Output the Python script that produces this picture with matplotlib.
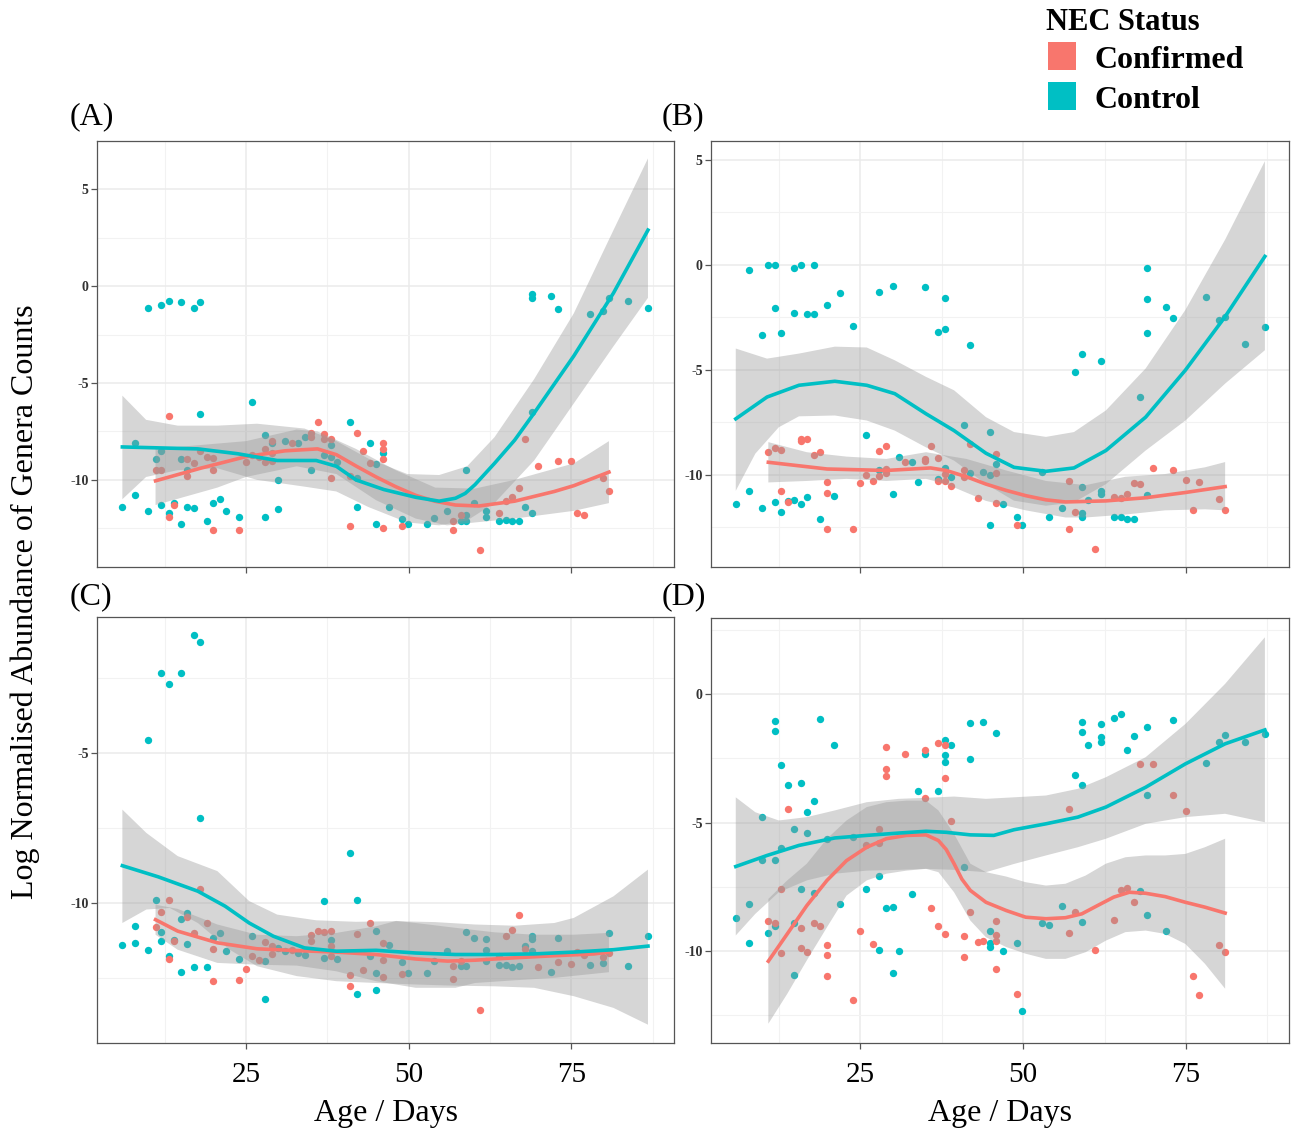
import numpy as np
import matplotlib
matplotlib.use("Agg")
import matplotlib.pyplot as plt
from matplotlib.patches import Rectangle
from matplotlib.ticker import MultipleLocator

plt.rcParams['font.family'] = ['Liberation Serif', 'DejaVu Serif']

RED = '#F8766D'
CYAN = '#00BFC4'

# ---------------- panel A ----------------
a_ctrl_age = [6.0, 8.0, 8.0, 10.0, 10.0, 12.0, 13.1, 15.0, 17.0, 18.0, 18.0, 11.1, 12.0, 12.0, 13.1, 14.0, 15.0, 15.0, 16.0, 16.0,
              17.0, 19.0, 20.0, 21.0, 22.0, 24.0, 26.0, 28.0, 28.0, 29.0, 30.0, 30.0, 31.0, 33.0, 34.0, 35.0, 37.0, 38.0, 38.0, 39.0,
              41.0, 42.0, 42.0, 44.0, 45.0, 45.0, 46.0, 47.0, 49.0, 49.9, 52.9, 53.9, 55.9, 58.0, 58.9, 58.9, 58.9, 60.0, 61.9, 61.9,
              63.9, 64.9, 65.9, 66.9, 67.9, 68.9, 68.9, 68.9, 68.9, 71.9, 72.9, 77.9, 79.9, 80.8, 83.8, 86.8]
a_ctrl_y = [-11.4, -8.1, -10.8, -1.12, -11.6, -0.95, -0.74, -0.81, -1.12, -0.81, -6.6, -8.9, -8.5, -11.3, -11.7, -11.2, -8.9, -12.3, -9.5, -11.4,
            -11.45, -12.1, -11.2, -11.0, -11.6, -11.9, -6.0, -7.7, -11.9, -8.1, -10.0, -11.5, -8.0, -8.1, -7.8, -9.5, -8.7, -8.2, -8.8, -9.1,
            -7.0, -9.9, -11.4, -8.1, -9.2, -12.3, -8.6, -11.4, -12.0, -12.3, -12.3, -11.95, -11.6, -12.1, -9.5, -11.8, -12.1, -11.2, -11.6, -11.9,
            -12.1, -12.05, -12.1, -12.1, -11.4, -0.4, -0.6, -6.5, -11.7, -0.5, -1.17, -1.43, -1.26, -0.6, -0.74, -1.12]
a_conf_age = [11.1, 12.0, 13.1, 13.1, 14.0, 16.0, 16.0, 17.0, 18.0, 19.0, 20.0, 20.0, 20.0, 24.0, 25.0, 26.0, 27.0, 28.0, 28.0, 29.0,
              29.0, 29.0, 32.0, 35.0, 35.0, 36.0, 37.0, 37.0, 38.0, 38.0, 41.0, 41.0, 42.0, 43.0, 44.0, 46.0, 46.0, 46.0, 46.0, 49.0,
              56.9, 56.9, 58.0, 61.0, 63.9, 64.9, 65.9, 66.9, 67.9, 69.9, 72.9, 74.9, 75.9, 76.9, 79.9, 80.8]
a_conf_y = [-9.5, -9.5, -6.7, -11.9, -11.3, -8.9, -9.8, -9.15, -8.5, -8.8, -8.85, -9.5, -12.6, -12.6, -9.1, -8.7, -8.8, -8.4, -9.1, -8.0,
            -8.6, -9.0, -8.1, -7.6, -7.8, -7.0, -7.65, -7.9, -7.9, -9.9, -9.8, -12.4, -7.6, -8.5, -9.15, -8.1, -8.4, -8.9, -12.5, -12.4,
            -12.1, -12.6, -11.8, -13.6, -11.7, -11.1, -10.9, -10.4, -7.9, -9.3, -9.0, -9.05, -11.7, -11.8, -9.9, -10.6]
a_conf_fit_age = [11.1, 18.0, 25, 31.0, 36, 38.9, 42.0, 45, 48.0, 51.1, 54.0, 57.2, 60.8, 66.3, 72.4, 75.4, 80.8]
a_conf_fit = [-10.05, -9.4, -8.8, -8.5, -8.4, -8.7, -9.3, -9.85, -10.35, -10.8, -11.1, -11.3, -11.35, -11.1, -10.6, -10.3, -9.6]
a_conf_hi_age = [11.1, 25, 32.8, 36, 41.9, 48, 54.1, 60.2, 66.3, 75.4, 80.8]
a_conf_hi = [-8.4, -8.0, -7.4, -7.5, -8.4, -9.5, -10.4, -10.45, -10.0, -9.15, -8.0]
a_conf_lo_age = [11.1, 20.6, 25, 32.8, 38.9, 45, 51.1, 55.9, 60.2, 66.3, 75.4, 80.8]
a_conf_lo = [-11.3, -10.4, -9.85, -9.3, -9.7, -11.05, -12.0, -12.35, -12.2, -12.0, -11.6, -11.2]
a_ctrl_fit_age = [6, 17.6, 23.7, 29.8, 35.8, 38.9, 41.9, 46.2, 51.1, 54.7, 57.2, 58.7, 60.2, 61.7, 63.2, 66.3, 69.3, 75.4, 81.5, 86.8]
a_ctrl_fit = [-8.3, -8.4, -8.65, -9.0, -9.0, -9.3, -10.0, -10.5, -10.9, -11.1, -10.95, -10.7, -10.25, -9.7, -9.15, -7.95, -6.55, -3.6, -0.35, 2.9]
a_ctrl_band_age = [6.0, 9.65, 14.5, 20.6, 26.7, 34.0, 38.9, 43.8, 49.8, 54.7, 59.0, 63.2, 69.3, 75.4, 81.5, 86.8]
a_ctrl_hi = [-5.65, -6.9, -7.2, -7.2, -7.1, -7.35, -8.0, -8.9, -9.7, -9.75, -9.3, -7.8, -4.8, -1.4, 2.9, 6.6]
a_ctrl_lo = [-11.0, -9.85, -9.5, -9.4, -10.0, -10.35, -10.6, -11.4, -12.2, -12.35, -12.1, -11.2, -9.0, -6.05, -3.1, -0.6]

# ---------------- panel B ----------------
b_ctrl_age = [5.9, 7.9, 7.9, 9.9, 9.9, 10.9, 11.9, 11.9, 11.9, 12.9, 12.9, 13.9, 14.9, 14.9, 14.9, 15.9, 15.9, 16.9, 16.9, 17.9,
              17.9, 18.9, 19.9, 20.9, 21.9, 23.9, 25.9, 27.9, 27.9, 30.0, 30.0, 30.9, 32.9, 33.9, 34.9, 37.0, 37.0, 38.0, 38.0, 38.0,
              38.9, 41.0, 41.9, 41.9, 43.9, 44.9, 44.9, 44.9, 45.9, 46.9, 49.0, 49.9, 52.9, 53.9, 55.9, 57.9, 59.0, 59.0, 59.0, 59.0,
              60.0, 62.0, 62.0, 62.0, 64.0, 65.0, 66.0, 67.0, 68.0, 69.0, 69.0, 69.0, 69.0, 72.0, 73.0, 78.0, 80.0, 81.0, 84.0, 87.1]
b_ctrl_y = [-11.4, -0.27, -10.8, -3.35, -11.6, -0.03, -0.03, -2.07, -11.3, -3.27, -11.8, -11.25, -0.13, -2.28, -11.2, -0.03, -11.4, -2.34, -11.05, -0.03,
            -2.34, -12.1, -1.91, -11.0, -1.36, -2.92, -8.1, -1.28, -9.8, -1.0, -10.9, -9.14, -9.4, -10.35, -1.04, -3.2, -10.2, -1.6, -3.05, -9.7,
            -10.1, -7.65, -3.83, -9.9, -9.85, -7.97, -10.0, -12.4, -9.5, -11.4, -12.0, -12.4, -9.85, -12.0, -11.6, -5.1, -4.23, -10.6, -11.85, -12.0,
            -11.2, -4.58, -10.8, -10.9, -12.0, -12.0, -12.1, -12.1, -6.3, -0.16, -1.64, -3.27, -10.97, -2.03, -2.52, -1.55, -2.63, -2.47, -3.75, -2.95]
b_conf_age = [10.9, 11.9, 12.9, 12.9, 13.9, 15.9, 15.9, 16.9, 17.9, 18.9, 19.9, 19.9, 19.9, 23.9, 24.9, 25.9, 26.9, 27.9, 27.9, 28.9,
              28.9, 28.9, 31.9, 34.9, 34.9, 35.9, 37.0, 37.0, 38.0, 38.0, 38.9, 41.0, 41.0, 41.9, 43.0, 45.9, 45.9, 45.9, 49.0, 57.0,
              57.0, 57.9, 61.0, 64.0, 65.0, 66.0, 67.0, 68.0, 70.0, 73.0, 75.0, 76.0, 77.0, 80.0, 81.0]
b_conf_y = [-8.9, -8.72, -8.82, -10.8, -11.3, -8.3, -8.4, -8.3, -9.04, -8.93, -10.33, -10.85, -12.6, -12.57, -10.4, -10.0, -10.3, -8.85, -10.05, -8.64,
            -9.73, -9.9, -9.38, -9.25, -9.33, -8.64, -9.2, -10.3, -9.97, -10.3, -10.55, -9.78, -10.13, -8.56, -11.13, -9.0, -9.94, -11.36, -12.4, -10.3,
            -12.57, -11.77, -13.56, -11.05, -11.1, -10.9, -10.4, -10.45, -9.7, -9.8, -10.24, -11.7, -10.37, -11.16, -11.7]
b_conf_fit_age = [10.9, 19.9, 29.0, 35.8, 38.2, 41.3, 44.3, 47.4, 50.4, 53.5, 56.5, 62.7, 68.8, 74.9, 81.0]
b_conf_fit = [-9.41, -9.73, -9.8, -9.68, -9.8, -10.1, -10.45, -10.75, -11.0, -11.2, -11.3, -11.25, -11.1, -10.85, -10.57]
b_conf_hi_age = [10.9, 16.8, 22.9, 29.0, 35.1, 41.3, 47.4, 53.5, 59.6, 65.7, 71.8, 77.9, 81.0]
b_conf_hi = [-8.45, -8.93, -9.14, -9.25, -8.93, -9.25, -9.8, -10.3, -10.5, -10.1, -9.97, -9.65, -9.4]
b_conf_lo_age = [10.9, 16.8, 22.9, 29.0, 35.1, 38.2, 44.3, 50.4, 56.5, 59.6, 65.7, 71.8, 77.9, 81.0]
b_conf_lo = [-10.37, -10.3, -10.2, -10.3, -10.2, -10.45, -11.25, -11.7, -12.04, -12.04, -11.9, -11.7, -11.65, -11.7]
b_ctrl_fit_age = [5.9, 10.7, 15.6, 21.1, 26, 30.3, 35.1, 39.4, 44.3, 48.6, 53.5, 57.8, 62.7, 68.8, 74.9, 81, 87.1]
b_ctrl_fit = [-7.34, -6.3, -5.74, -5.55, -5.74, -6.14, -7.1, -7.9, -8.98, -9.65, -9.84, -9.68, -8.85, -7.26, -5.02, -2.47, 0.4]
b_ctrl_hi_age = b_ctrl_fit_age
b_ctrl_hi = [-3.99, -4.47, -4.23, -3.9, -3.94, -4.55, -5.34, -5.98, -7.26, -7.97, -8.2, -7.97, -6.94, -4.94, -2.15, 1.2, 4.94]
b_ctrl_lo_age = [5.9, 8.9, 12.5, 15.6, 21.1, 26, 30.3, 35.1, 39.4, 44.3, 48.6, 53.5, 57.8, 62.7, 68.8, 74.9, 81, 87.1]
b_ctrl_lo = [-10.77, -9.0, -7.74, -7.22, -7.18, -7.42, -7.9, -8.7, -9.33, -10.45, -11.24, -11.48, -11.32, -10.45, -8.85, -7.42, -5.66, -4.07]

# ---------------- panel C ----------------
c_ctrl_age = [6.0, 8.0, 8.0, 10.0, 10.0, 11.1, 12.0, 12.0, 12.0, 13.1, 13.1, 14.0, 15.0, 15.0, 15.0, 16.0, 16.0, 17.0, 17.0, 18.0,
              18.0, 19.0, 20.0, 21.0, 22.0, 24.0, 26.0, 28.0, 28.0, 30.0, 31.0, 33.0, 34.0, 37.0, 37.0, 38.0, 39.0, 41.0, 42.0, 42.0,
              44.0, 45.0, 45.0, 45.0, 47.0, 49.0, 49.9, 52.9, 53.9, 55.9, 58.0, 58.9, 58.9, 60.0, 61.9, 61.9, 61.9, 63.9, 64.9, 65.9,
              66.9, 67.9, 68.9, 68.9, 68.9, 71.9, 72.9, 77.9, 79.9, 80.8, 83.8, 86.8]
c_ctrl_y = [-11.41, -10.76, -11.33, -4.56, -11.56, -9.91, -2.33, -10.98, -11.28, -2.7, -11.76, -11.22, -2.33, -10.52, -12.3, -10.33, -11.37, -1.08, -12.13, -1.31,
            -7.17, -12.13, -11.17, -11.0, -11.59, -11.86, -11.11, -11.92, -13.19, -11.5, -11.61, -11.67, -11.72, -9.94, -11.83, -11.22, -11.87, -8.33, -9.89, -13.03,
            -11.78, -10.94, -12.33, -12.89, -11.39, -11.98, -12.33, -12.33, -11.94, -11.59, -12.11, -10.98, -12.11, -11.17, -11.2, -11.58, -11.92, -12.06, -12.06, -12.14,
            -12.09, -11.42, -11.11, -11.2, -11.61, -12.3, -11.17, -12.06, -12.0, -11.0, -12.11, -11.11]
c_conf_age = [11.1, 12.0, 13.1, 13.1, 14.0, 16.0, 17.0, 18.0, 19.0, 20.0, 20.0, 24.0, 25.0, 26.0, 27.0, 28.0, 29.0, 29.0, 32.0, 35.0,
              35.0, 36.0, 37.0, 38.0, 38.0, 38.0, 41.0, 41.0, 42.0, 43.0, 44.0, 46.0, 46.0, 46.0, 49.0, 56.9, 56.9, 58.0, 61.0, 63.9,
              64.9, 65.9, 66.9, 67.9, 69.9, 72.9, 74.9, 75.9, 76.9, 79.9, 80.8]
c_conf_y = [-10.81, -10.3, -9.89, -11.87, -11.28, -10.48, -11.0, -9.53, -10.67, -11.52, -12.59, -12.56, -12.19, -11.78, -11.91, -11.3, -11.42, -11.69, -11.58, -11.08,
            -11.26, -10.94, -10.96, -10.92, -11.42, -11.78, -12.41, -12.76, -11.03, -12.22, -10.67, -11.33, -11.89, -12.48, -12.36, -12.11, -12.53, -11.92, -13.56, -11.78,
            -11.11, -10.91, -10.39, -11.52, -12.14, -11.97, -12.03, -11.64, -11.74, -11.81, -11.67]
c_conf_fit_age = [11.1, 14.5, 20.6, 26.7, 32.8, 38.9, 45, 51.1, 56, 60.2, 66.3, 72.4, 78.5, 80.8]
c_conf_fit = [-10.56, -10.94, -11.33, -11.53, -11.59, -11.64, -11.72, -11.87, -11.94, -11.91, -11.83, -11.76, -11.7, -11.64]
c_conf_hi_age = [11.1, 14.5, 20.6, 26.7, 32.8, 38.9, 45, 48.1, 51.1, 57.2, 63.2, 69.3, 75.4, 80.8]
c_conf_hi = [-10.06, -10.2, -10.72, -11.06, -11.11, -11.0, -10.78, -10.6, -10.67, -10.83, -10.98, -11.06, -11.06, -11.0]
c_conf_lo_age = [11.1, 14.5, 20.6, 26.7, 32.8, 38.9, 45, 51.1, 57.2, 60.2, 66.3, 72.4, 80.8]
c_conf_lo = [-11.06, -11.56, -12.0, -12.06, -12.09, -12.28, -12.61, -12.83, -12.83, -12.67, -12.58, -12.5, -12.31]
c_ctrl_fit_age = [6, 11.5, 17.6, 21.8, 25.5, 29.2, 34, 38.9, 45, 51.1, 57.2, 63.2, 69.3, 75.4, 81.5, 86.8]
c_ctrl_fit = [-8.76, -9.13, -9.61, -10.11, -10.67, -11.11, -11.5, -11.61, -11.58, -11.67, -11.72, -11.72, -11.7, -11.64, -11.56, -11.44]
c_ctrl_hi_age = [6, 9.7, 14.5, 20.6, 25.5, 29.8, 35.8, 41.9, 48, 54.1, 60.2, 66.3, 72.4, 75.4, 81.5, 86.8]
c_ctrl_hi = [-6.89, -7.67, -8.44, -8.94, -9.94, -10.39, -10.58, -10.63, -10.61, -10.64, -10.72, -10.76, -10.67, -10.5, -9.78, -8.89]
c_ctrl_lo_age = [6, 9.7, 13.3, 17.6, 22.5, 26.7, 32.8, 38.9, 45, 51.1, 57.2, 63.2, 69.3, 75.4, 81.5, 86.8]
c_ctrl_lo = [-10.67, -10.22, -10.17, -10.67, -11.56, -12.11, -12.44, -12.61, -12.67, -12.72, -12.76, -12.78, -12.83, -13.11, -13.5, -14.06]

# ---------------- panel D ----------------
d_ctrl_age = [5.9, 7.9, 7.9, 9.9, 9.9, 10.9, 11.9, 11.9, 11.9, 11.9, 12.9, 12.9, 13.9, 14.9, 14.9, 14.9, 15.9, 15.9, 16.9, 16.9,
              17.9, 17.9, 18.9, 19.9, 20.9, 21.9, 23.9, 25.9, 27.9, 27.9, 28.9, 30.0, 30.0, 30.9, 32.9, 33.9, 34.9, 37.0, 38.0, 38.0,
              38.0, 38.9, 41.0, 41.9, 41.9, 43.9, 44.9, 44.9, 44.9, 45.9, 46.9, 49.0, 49.9, 52.9, 53.9, 55.9, 57.9, 59.0, 59.0, 59.0,
              59.0, 60.0, 62.0, 62.0, 62.0, 64.0, 65.0, 66.0, 67.0, 68.0, 69.0, 69.0, 69.0, 72.0, 73.0, 78.0, 80.0, 81.0, 84.0, 87.1]
d_ctrl_y = [-8.7, -8.16, -9.68, -4.77, -6.45, -9.29, -1.06, -1.46, -6.45, -9.04, -2.75, -5.98, -3.54, -5.25, -8.91, -10.92, -3.47, -7.6, -4.6, -5.39,
            -4.18, -7.73, -0.97, -5.63, -1.97, -8.16, -5.57, -7.58, -7.09, -9.97, -8.33, -8.3, -10.85, -10.0, -7.77, -3.76, -2.33, -3.76, -1.81, -2.36,
            -2.66, -1.97, -6.74, -1.14, -2.53, -1.08, -9.22, -9.68, -9.84, -1.53, -10.01, -9.69, -12.34, -8.91, -9.0, -8.23, -3.15, -3.54, -1.1, -1.49,
            -8.85, -1.98, -1.17, -1.68, -1.88, -0.93, -0.78, -2.18, -1.65, -7.68, -1.3, -3.92, -8.61, -9.22, -1.01, -2.68, -1.88, -1.59, -1.88, -1.55]
d_conf_age = [10.9, 11.9, 12.9, 12.9, 13.9, 15.9, 15.9, 16.9, 17.9, 18.9, 19.9, 19.9, 19.9, 23.9, 24.9, 25.9, 26.9, 27.9, 27.9, 28.9,
              28.9, 28.9, 31.9, 34.9, 34.9, 35.9, 37.0, 37.0, 38.0, 38.0, 38.0, 38.9, 41.0, 41.0, 41.9, 43.0, 43.9, 45.9, 45.9, 45.9,
              45.9, 49.0, 57.0, 57.0, 57.9, 61.0, 64.0, 65.0, 66.0, 67.0, 68.0, 70.0, 73.0, 75.0, 76.0, 77.0, 80.0, 81.0]
d_conf_y = [-8.83, -8.91, -7.6, -10.08, -4.47, -9.1, -9.88, -10.04, -8.9, -9.04, -9.78, -10.14, -10.98, -11.88, -9.2, -5.89, -9.72, -5.25, -5.8, -2.07,
            -2.91, -3.2, -2.33, -2.2, -4.05, -8.32, -1.92, -9.04, -1.98, -3.28, -9.33, -4.96, -9.43, -10.21, -8.46, -9.65, -9.59, -8.81, -9.39, -9.61,
            -10.69, -11.66, -4.47, -9.29, -8.48, -9.95, -8.78, -7.64, -7.54, -8.1, -2.72, -2.72, -3.92, -4.57, -10.98, -11.72, -9.75, -10.04]
d_conf_fit_age = [10.9, 13.8, 16.8, 19.9, 22.9, 26, 29, 32.1, 35.1, 37, 38.2, 39.4, 40.6, 41.9, 44.3, 47.4, 50.4, 53.5, 56.5, 59, 61.4, 63.9,
                  66.3, 68.8, 71.8, 74.9, 77.9, 81]
d_conf_fit = [-10.39, -9.33, -8.23, -7.25, -6.48, -5.96, -5.63, -5.5, -5.48, -5.7, -6.05, -6.6, -7.2, -7.64, -8.1, -8.42, -8.68, -8.74, -8.7, -8.55, -8.23, -7.9,
              -7.71, -7.75, -7.88, -8.1, -8.29, -8.52]
d_conf_band_age = [10.9, 13.8, 16.8, 19.9, 22.9, 26, 29, 32.1, 35.1, 37, 39.4, 41.9, 44.3, 47.4, 50.4, 53.5, 56.5, 59.6, 62.7, 65.7,
                   68.8, 71.8, 74.9, 77.9, 81]
d_conf_hi = [-7.97, -7.25, -6.6, -5.63, -4.92, -4.4, -4.21, -4.15, -4.15, -4.53, -5.44, -6.6, -6.93, -7.1, -7.32, -7.45, -7.38, -7.06, -6.6, -6.35,
             -6.28, -6.28, -6.22, -5.96, -5.63]
d_conf_lo = [-12.82, -11.66, -10.36, -9.07, -7.84, -7.25, -6.99, -6.87, -6.8, -6.93, -7.71, -8.81, -9.46, -9.84, -10.1, -10.3, -10.3, -10.04, -9.59, -9.26,
             -9.2, -9.33, -9.72, -10.49, -11.46]
d_ctrl_fit_age = [5.9, 10.7, 15.6, 21.1, 26, 30.9, 35.1, 38.2, 41.9, 45.5, 48.6, 53.5, 58.4, 62.7, 68.8, 74.9, 81, 87.1]
d_ctrl_fit = [-6.71, -6.28, -5.89, -5.6, -5.5, -5.41, -5.34, -5.38, -5.48, -5.5, -5.28, -5.05, -4.79, -4.4, -3.63, -2.72, -1.94, -1.4]
d_ctrl_band_age = [5.9, 8.9, 12.5, 16.8, 21.1, 26, 30.9, 35.1, 39.4, 44.3, 48.6, 53.5, 58.4, 62.7, 68.8, 74.9, 81, 87.1]
d_ctrl_hi = [-4.02, -4.6, -4.92, -4.79, -4.53, -4.21, -4.08, -4.04, -3.99, -4.08, -4.02, -3.95, -3.69, -3.24, -2.46, -1.17, 0.39, 2.2]
d_ctrl_lo = [-9.39, -8.55, -7.71, -7.25, -6.99, -6.87, -6.84, -6.8, -6.84, -6.93, -6.61, -6.28, -5.96, -5.63, -5.05, -4.79, -4.66, -4.99]

panel_labels = ['(A)', '(B)', '(C)', '(D)']
x_ticks = [25, 50, 75]
legend_title = 'NEC Status'
legend_names = ['Confirmed', 'Control']


def band(ax, hi_age, hi, lo_age, lo):
    xs = list(hi_age) + list(lo_age)[::-1]
    ys = list(hi) + list(lo)[::-1]
    ax.fill(xs, ys, color='#999999', alpha=0.4, lw=0, zorder=3)


def draw_panel(ax, ctrl, conf, conf_fit, conf_band, ctrl_fit, ctrl_band, yticks, ylim, show_x):
    ax.scatter(ctrl[0], ctrl[1], s=28, color=CYAN, lw=0, zorder=2)
    ax.scatter(conf[0], conf[1], s=28, color=RED, lw=0, zorder=2)
    band(ax, *conf_band)
    ax.plot(conf_fit[0], conf_fit[1], color=RED, lw=2.6, zorder=4, solid_joinstyle='round')
    band(ax, *ctrl_band)
    ax.plot(ctrl_fit[0], ctrl_fit[1], color=CYAN, lw=2.6, zorder=4, solid_joinstyle='round')

    ax.set_xlim(2.1, 90.8)
    ax.set_ylim(*ylim)
    ax.set_xticks(x_ticks)
    ax.xaxis.set_minor_locator(MultipleLocator(12.5))
    ax.set_yticks(yticks)
    ax.yaxis.set_minor_locator(MultipleLocator(2.5))
    ax.grid(which='major', color='#EBEBEB', lw=1.1, zorder=0)
    ax.grid(which='minor', color='#F2F2F2', lw=0.8, zorder=0)
    ax.set_axisbelow(True)
    for s in ax.spines.values():
        s.set_color('#555555')
        s.set_linewidth(0.9)
    ax.tick_params(which='major', direction='out', length=4, width=0.9, color='#555555')
    ax.tick_params(which='minor', length=0)
    ax.tick_params(axis='y', labelsize=10, labelcolor='#333333', pad=2)
    ax.set_yticklabels([str(t) for t in yticks], fontweight='bold')
    if show_x:
        ax.tick_params(axis='x', labelsize=21, labelcolor='black', pad=10)
    else:
        ax.tick_params(axis='x', labelbottom=False)


fig = plt.figure(figsize=(12.91, 11.28), dpi=100)
W, H = 1291, 1128
boxes = [(97, 141, 674, 567), (711, 141, 1289, 567), (97, 617, 674, 1043), (711, 618, 1289, 1043)]
axes = []
for (l, t, r, b) in boxes:
    axes.append(fig.add_axes([l / W, 1 - b / H, (r - l) / W, (b - t) / H]))

draw_panel(axes[0], (a_ctrl_age, a_ctrl_y), (a_conf_age, a_conf_y),
           (a_conf_fit_age, a_conf_fit), (a_conf_hi_age, a_conf_hi, a_conf_lo_age, a_conf_lo),
           (a_ctrl_fit_age, a_ctrl_fit), (a_ctrl_band_age, a_ctrl_hi, a_ctrl_band_age, a_ctrl_lo),
           [5, 0, -5, -10], (-14.5, 7.5), False)
draw_panel(axes[1], (b_ctrl_age, b_ctrl_y), (b_conf_age, b_conf_y),
           (b_conf_fit_age, b_conf_fit), (b_conf_hi_age, b_conf_hi, b_conf_lo_age, b_conf_lo),
           (b_ctrl_fit_age, b_ctrl_fit), (b_ctrl_hi_age, b_ctrl_hi, b_ctrl_lo_age, b_ctrl_lo),
           [5, 0, -5, -10], (-14.4, 5.9), False)
draw_panel(axes[2], (c_ctrl_age, c_ctrl_y), (c_conf_age, c_conf_y),
           (c_conf_fit_age, c_conf_fit), (c_conf_hi_age, c_conf_hi, c_conf_lo_age, c_conf_lo),
           (c_ctrl_fit_age, c_ctrl_fit), (c_ctrl_hi_age, c_ctrl_hi, c_ctrl_lo_age, c_ctrl_lo),
           [-5, -10], (-14.67, -0.47), True)
draw_panel(axes[3], (d_ctrl_age, d_ctrl_y), (d_conf_age, d_conf_y),
           (d_conf_fit_age, d_conf_fit), (d_conf_band_age, d_conf_hi, d_conf_band_age, d_conf_lo),
           (d_ctrl_fit_age, d_ctrl_fit), (d_ctrl_band_age, d_ctrl_hi, d_ctrl_band_age, d_ctrl_lo),
           [0, -5, -10], (-13.57, 2.95), True)

# panel letters
label_pos = [(70, 117), (662, 117), (70, 597), (662, 597)]
for txt, (x, y) in zip(panel_labels, label_pos):
    fig.text(x / W, 1 - y / H, txt, fontsize=23, ha='left', va='center')

# axis titles
fig.text(25 / W, 1 - 602 / H, 'Log Normalised Abundance of Genera Counts', rotation=90,
         fontsize=23, ha='center', va='center')
fig.text(386 / W, 1 - 1113 / H, 'Age / Days', fontsize=23, ha='center', va='center')
fig.text(1000 / W, 1 - 1113 / H, 'Age / Days', fontsize=23, ha='center', va='center')

# legend
fig.text(1046 / W, 1 - 23 / H, legend_title, fontsize=22, fontweight='bold', ha='left', va='center')
for i, (name, col) in enumerate(zip(legend_names, [RED, CYAN])):
    top = 42 + i * 40
    fig.patches.append(Rectangle((1048 / W, 1 - (top + 28) / H), 28 / W, 28 / H,
                                 transform=fig.transFigure, color=col, lw=0))
    fig.text(1095 / W, 1 - (top + 19) / H, name, fontsize=23, fontweight='bold', ha='left', va='center')

fig.savefig('out.png', dpi=100)
